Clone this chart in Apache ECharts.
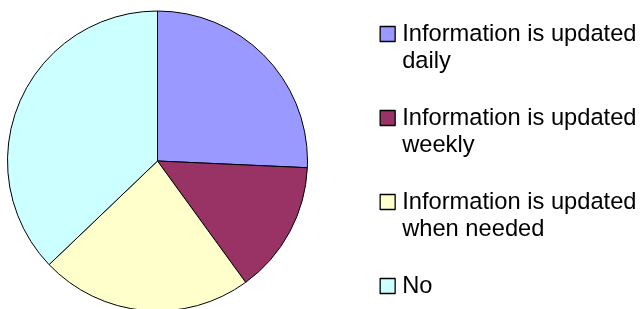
<!DOCTYPE html>
<html>
<head>
<meta charset="utf-8">
<script src="https://cdn.jsdelivr.net/npm/echarts@6/dist/echarts.min.js"></script>
<style>
  html, body { margin: 0; padding: 0; background: #fff; }
  #chart { width: 643px; height: 309px; }
</style>
</head>
<body>
<div id="chart"></div>
<script>
var categories = ['Information is updated\ndaily', 'Information is updated\nweekly', 'Information is updated\nwhen needed', 'No'];
var values = [9, 5, 8, 13];
var colors = ['#9999FF', '#993366', '#FFFFCC', '#CCFFFF'];

var myChart = echarts.init(document.getElementById('chart'));

var pieData = categories.map(function (name, i) {
    return { name: name, value: values[i], itemStyle: { color: colors[i] } };
});

var option = {
    animation: false,
    legend: {
        orient: 'vertical',
        left: 379.5,
        top: -6.5,
        height: 400,
        padding: 0,
        itemGap: 3,
        itemWidth: 19,
        itemHeight: 15,
        // square kept square inside a wider slot, so the text sits further right
        icon: 'path://M0,0L10,0L10,10L0,10Z',
        symbolKeepAspect: true,
        selectedMode: false,
        itemStyle: { borderColor: '#000', borderWidth: 1.3 },
        textStyle: {
            fontFamily: 'Liberation Sans, Arial, sans-serif',
            fontSize: 23.7,
            lineHeight: 27,
            color: '#000'
        },
        // blank first line keeps the square beside the first text line
        formatter: function (name) {
            return ' \n' + name + (name.indexOf('\n') < 0 ? '\n ' : '');
        },
        data: categories
    },
    series: [
        {
            type: 'pie',
            center: [157.5, 161],
            radius: 150,
            startAngle: 90,
            clockwise: true,
            silent: true,
            label: { show: false },
            labelLine: { show: false },
            itemStyle: { borderColor: '#000', borderWidth: 1 },
            emphasis: { disabled: true },
            data: pieData
        }
    ]
};
myChart.setOption(option);
</script>
</body>
</html>
